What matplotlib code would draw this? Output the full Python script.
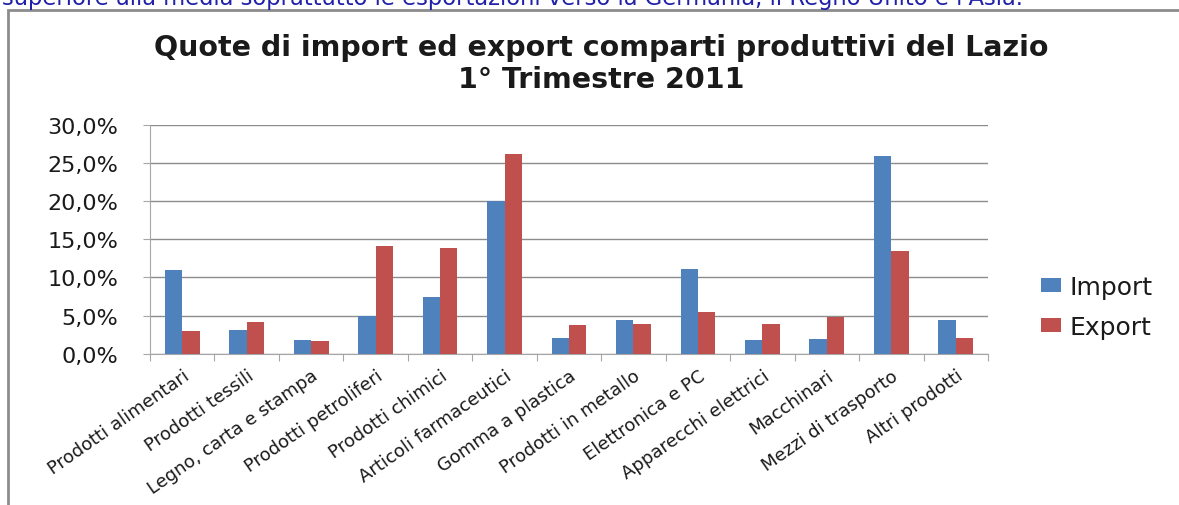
import matplotlib
matplotlib.use("Agg")
import matplotlib.pyplot as plt
import matplotlib.transforms as mtransforms
from matplotlib.patches import Rectangle
from matplotlib.ticker import FuncFormatter, FixedLocator
import numpy as np

comparti = [
    "Prodotti alimentari", "Prodotti tessili", "Legno, carta e stampa",
    "Prodotti petroliferi", "Prodotti chimici", "Articoli farmaceutici",
    "Gomma a plastica", "Prodotti in metallo", "Elettronica e PC",
    "Apparecchi elettrici", "Macchinari", "Mezzi di trasporto", "Altri prodotti",
]
quota_import = [10.9, 3.15, 1.8, 5.0, 7.4, 20.0, 2.1, 4.45, 11.05, 1.8, 1.95, 25.95, 4.45]
quota_export = [3.0, 4.2, 1.65, 14.05, 13.9, 26.1, 3.7, 3.9, 5.5, 3.9, 4.75, 13.45, 2.1]

BLU = "#4F81BD"
ROSSO = "#C0504D"
GRIGIO = "#A6A6A6"
TESTO = "#1A1A1A"

plt.rcParams["font.family"] = ["DejaVu Sans"]

W, H = 1179, 506
fig = plt.figure(figsize=(W / 100, H / 100), dpi=100)

# riga di testo del documento sopra il grafico (tagliata dal bordo)
fig.text(2 / W, 1 + 13 / H, "superiore alla media soprattutto le esportazioni verso la Germania, "
         "il Regno Unito e l'Asia.", color="#2020A8", fontsize=16.3, va="top", ha="left")

# cornice del grafico
fig.patches.append(Rectangle((8 / W, -0.1), 1.2, 1 - 11 / H + 0.1, transform=fig.transFigure,
                             fill=False, edgecolor="#8C8C8C", linewidth=2))

fig.text(601 / W, 1 - 64 / H, "Quote di import ed export comparti produttivi del Lazio\n1° Trimestre 2011",
         ha="center", va="center", fontsize=20.5, fontweight="bold", linespacing=1.15, color=TESTO)

ax = fig.add_axes([150 / W, 1 - 354.7 / H, 838 / W, 229 / H])

x = np.arange(len(comparti))
w = 0.27
ax.bar(x - w / 2, quota_import, w, color=BLU, label="Import", zorder=3)
ax.bar(x + w / 2, quota_export, w, color=ROSSO, label="Export", zorder=3)

ax.set_xlim(-0.5, len(comparti) - 0.5)
ax.set_ylim(0, 30)
ax.set_yticks(np.arange(0, 31, 5))
ax.yaxis.set_major_formatter(FuncFormatter(lambda v, p: f"{v:.1f}%".replace(".", ",")))
ax.grid(axis="y", color="#8C8C8C", linewidth=1, zorder=0)

# tacche ai confini delle categorie, etichette al centro
ax.xaxis.set_major_locator(FixedLocator(np.arange(-0.5, len(comparti), 1)))
ax.xaxis.set_major_formatter(FuncFormatter(lambda v, p: ""))
ax.set_xticks(x, minor=True)
ax.set_xticklabels(comparti, minor=True, rotation=35, ha="right", va="top",
                   rotation_mode="anchor", fontsize=13, color=TESTO)
sposta = mtransforms.ScaledTranslation(5 / 100, 0, fig.dpi_scale_trans)
for lab in ax.get_xticklabels(minor=True):
    lab.set_transform(lab.get_transform() + sposta)
ax.tick_params(axis="x", which="minor", length=0, pad=9)
ax.tick_params(axis="x", which="major", length=5, color=GRIGIO, direction="out")
ax.tick_params(axis="y", length=5, color=GRIGIO, labelsize=16, pad=18, labelcolor=TESTO)

for s in ["top", "right"]:
    ax.spines[s].set_visible(False)
ax.spines["left"].set_color(GRIGIO)
ax.spines["bottom"].set_color(GRIGIO)

ax.legend(loc="center left", bbox_to_anchor=(1018 / W, 1 - 308 / H), bbox_transform=fig.transFigure,
          frameon=False, fontsize=18, handlelength=0.8, handleheight=0.5, labelspacing=0.65,
          handletextpad=0.35, labelcolor=TESTO)

fig.savefig("out.png", dpi=100)
